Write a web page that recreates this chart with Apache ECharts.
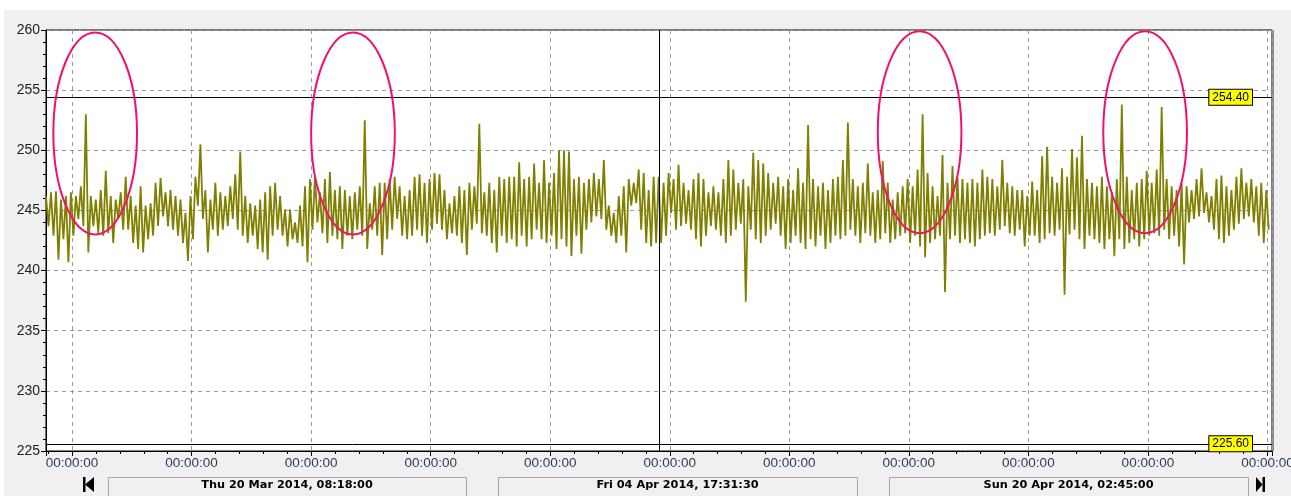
<!DOCTYPE html>
<html><head><meta charset="utf-8">
<script src="https://cdn.jsdelivr.net/npm/echarts@6/dist/echarts.min.js"></script>
<style>
html,body{margin:0;padding:0;background:#fff;overflow:hidden;}
#bg{position:absolute;left:4px;top:10px;width:1287px;height:486px;background:#f0f0f0;}
#chart{position:absolute;left:0;top:0;width:1291px;height:496px;}
</style></head><body>
<div id="bg"></div><div id="chart"></div>
<script>
// ---- data ----
const axisStart = '2014-03-20T08:18:00Z';
const axisEnd = '2014-04-20T02:45:00Z';
const tickOrigin = '2014-03-21T00:00:00Z';
const cursorTime = '2014-04-04T17:31:30Z';
const sampleStepMinutes = 90;
const voltage = [
246.2,243.7, 246.5,242.9, 246.6,240.9, 245.9,242.6, 246.2,240.7, 246.5,242.9, 246.2,244.3, 247.0,243.7, 253.0,241.5, 246.2,243.7,
245.9,243.1, 246.7,242.9, 248.3,243.1, 246.2,242.3, 245.9,244.3, 246.5,243.4, 247.8,243.4, 246.2,242.3, 245.4,241.8, 247.0,241.5,
245.4,242.6, 245.6,242.9, 247.3,243.7, 247.7,244.5, 246.5,243.7, 246.7,243.4, 246.2,242.9, 245.9,242.3, 244.8,240.8, 246.2,242.6,
247.8,245.4, 250.5,244.3, 246.7,241.5, 245.9,243.4, 247.3,242.9, 246.5,243.4, 246.2,243.7, 247.0,244.3, 248.0,243.4, 249.9,242.9,
246.2,242.3, 245.6,242.9, 245.4,241.8, 245.9,241.5, 246.5,240.9, 247.0,242.9, 247.3,243.4, 246.2,242.9, 245.1,242.0, 245.1,242.6,
244.0,242.3, 245.4,242.0, 247.0,240.7, 247.6,243.4, 247.8,244.0, 246.5,243.1, 247.6,242.3, 248.2,242.9, 246.7,242.6, 247.0,241.8,
246.7,242.9, 246.2,242.6, 246.5,243.4, 247.0,242.9, 252.5,241.8, 245.6,243.4, 247.0,242.9, 247.3,241.3, 247.3,242.6, 247.6,243.4,
247.8,244.3, 247.0,242.9, 246.2,242.6, 246.7,242.9, 247.8,243.4, 248.0,242.9, 247.3,242.3, 247.6,243.4, 248.1,243.9, 248.0,243.4,
246.7,242.6, 245.6,243.1, 246.2,242.9, 247.0,242.3, 246.7,241.3, 247.3,243.4, 247.0,243.9, 252.2,243.1, 246.5,242.9, 247.3,242.3,
246.7,241.5, 247.8,242.9, 247.6,242.3, 247.8,242.6, 247.8,242.0, 249.0,242.9, 247.6,242.0, 247.8,242.6, 248.9,243.4, 247.3,242.6,
249.2,242.3, 247.3,242.9, 248.1,241.8, 250.0,242.6, 250.0,242.0, 249.9,241.2, 247.6,242.9, 247.8,241.4, 247.3,243.4, 247.6,244.0,
248.1,244.5, 247.6,244.3, 249.2,243.4, 245.4,242.9, 244.8,242.3, 246.2,242.9, 247.0,241.5, 247.6,245.4, 247.3,245.6, 248.4,243.4,
248.1,242.3, 246.7,242.0, 247.8,242.3, 247.8,242.3, 247.3,242.9, 248.1,244.8, 247.6,243.4, 248.8,243.7, 247.3,243.9, 246.7,243.4,
247.6,242.6, 248.1,242.0, 247.6,242.9, 246.5,243.7, 247.0,243.4, 246.5,242.9, 247.6,242.3, 249.2,242.9, 248.4,243.4, 247.3,243.9,
247.6,237.4, 247.0,243.4, 249.8,242.6, 249.2,242.3, 248.9,242.9, 248.1,243.4, 247.3,243.9, 247.8,242.9, 247.0,241.8, 247.6,242.3,
246.7,242.9, 248.5,242.3, 247.3,241.8, 252.1,242.6, 247.6,242.0, 247.0,242.9, 247.3,241.8, 246.7,242.3, 247.6,242.9, 247.8,242.6,
249.2,242.9, 252.3,243.4, 247.6,242.9, 247.0,242.3, 247.3,243.1, 248.9,242.9, 246.5,242.3, 246.7,242.6, 249.1,243.1, 247.3,242.3,
245.9,242.6, 246.5,242.9, 247.0,243.1, 247.6,242.3, 247.0,242.9, 248.4,242.0, 253.0,241.1, 248.1,242.3, 247.0,242.6, 246.2,242.9,
249.6,238.2, 247.3,242.6, 248.7,242.9, 247.8,242.3, 247.6,242.6, 247.3,242.3, 247.6,242.0, 247.3,242.6, 248.4,242.9, 247.8,243.1,
247.6,242.9, 247.0,243.4, 249.2,243.7, 247.3,243.1, 247.0,242.9, 246.7,243.4, 246.7,242.0, 246.2,242.9, 247.4,242.9, 246.7,242.3,
249.5,242.6, 250.3,243.1, 247.8,242.9, 247.3,243.4, 248.5,238.0, 247.8,243.0, 250.1,243.4, 249.4,242.6, 251.2,241.8, 247.6,242.9,
247.3,242.6, 247.0,242.3, 247.8,241.8, 247.0,242.6, 246.5,241.2, 247.6,242.6, 253.8,241.8, 247.8,242.3, 246.7,242.6, 247.3,242.0,
247.6,242.6, 248.3,242.9, 247.3,243.1, 248.4,242.9, 253.6,243.4, 247.6,242.6, 247.0,242.9, 246.7,242.0, 247.3,240.5, 247.0,244.0,
246.7,244.3, 247.6,244.5, 248.5,244.8, 246.5,244.0, 246.2,243.4, 247.6,242.6, 247.9,242.3, 247.0,242.9, 246.7,243.4, 247.8,243.9,
248.5,244.3, 247.3,244.5, 247.6,244.0, 247.0,242.9, 247.3,242.3, 246.7,243.4
];
const limitValues = [254.40, 225.60];
const yMin = 225, yMax = 260, yStep = 5;
const xTickDays = [0, 3, 6, 9, 12, 15, 18, 21, 24, 27, 30];
const xTickLabels = ['00:00:00','00:00:00','00:00:00','00:00:00','00:00:00','00:00:00','00:00:00','00:00:00','00:00:00','00:00:00','00:00:00'];
const navLabels = ['Thu 20 Mar 2014, 08:18:00', 'Fri 04 Apr 2014, 17:31:30', 'Sun 20 Apr 2014, 02:45:00'];
// highlighted regions (annotation ellipses): centre day, centre value, half-width (days), half-height (value)
const highlightDays = [0.58, 7.05, 21.27, 26.93];
const highlightCentre = [251.4, 251.4, 251.5, 251.5];
const highlightHalfDays = 1.05;
const highlightHalfValue = 8.4;

// ---- chart ----
const DAY = 86400000;
const t0 = Date.parse(tickOrigin);
const toDay = s => (Date.parse(s) - t0) / DAY;
const xMin = toDay(axisStart), xMax = toDay(axisEnd), cursorDay = toDay(cursorTime);
const seriesData = voltage.map((v, i) => [xMin + i * sampleStepMinutes / 1440, v]);

const chart = echarts.init(document.getElementById('chart'), null, {renderer: 'canvas'});
const dashed = {color: '#9a9a9a', type: [4, 4], width: 1};

const navBoxes = [[108, 466], [498, 857], [889, 1248]];
const navGraphics = [];
navBoxes.forEach((b, i) => {
  navGraphics.push({type: 'rect', shape: {x: b[0] + 0.5, y: 477.5, width: b[1] - b[0], height: 30},
    style: {fill: '#f0f0f0', stroke: '#a8a8a8', lineWidth: 1}, silent: true});
  navGraphics.push({type: 'text', x: (b[0] + b[1]) / 2, y: 485.5,
    style: {text: navLabels[i], fill: '#000', font: 'bold 11.3px "DejaVu Sans"', textAlign: 'center', textVerticalAlign: 'middle'}, silent: true});
});
navGraphics.push({type: 'rect', shape: {x: 83, y: 477, width: 2.5, height: 15}, style: {fill: '#000'}, silent: true});
navGraphics.push({type: 'polygon', shape: {points: [[85, 484.5], [94, 477], [94, 492]]}, style: {fill: '#000'}, silent: true});
navGraphics.push({type: 'polygon', shape: {points: [[1262.5, 484.5], [1256, 477], [1256, 492]]}, style: {fill: '#000'}, silent: true});
navGraphics.push({type: 'rect', shape: {x: 1262.5, y: 477, width: 2.5, height: 15}, style: {fill: '#000'}, silent: true});
navGraphics.push({type: 'line', shape: {x1: 1273, y1: 30, x2: 1273, y2: 451}, style: {stroke: '#8a8a8a', lineWidth: 2}, silent: true});

const option = {
  animation: false,
  backgroundColor: 'transparent',
  grid: {left: 46, right: 19, top: 30, bottom: 45, show: true, backgroundColor: '#fff',
    borderColor: '#000', borderWidth: 1, containLabel: false, outerBoundsMode: 'none'},
  xAxis: {
    type: 'value', min: xMin, max: xMax, minInterval: 3, maxInterval: 3,
    axisLine: {show: true, onZero: false, lineStyle: {color: '#000', width: 1}},
    axisTick: {show: true, length: 5, lineStyle: {color: '#000'}},
    minorTick: {show: true, splitNumber: 5, length: 3, lineStyle: {color: '#000'}},
    axisLabel: {color: '#2d3b5a', fontSize: 13.5, fontFamily: '"Liberation Sans", Arial', margin: 5,
      hideOverlap: false, showMinLabel: true, showMaxLabel: true,
      formatter: v => { const i = xTickDays.findIndex(d => Math.abs(d - v) < 1e-6); return i >= 0 ? xTickLabels[i] : ''; }},
    splitLine: {show: true, lineStyle: dashed},
    minorSplitLine: {show: false}
  },
  yAxis: {
    type: 'value', min: yMin, max: yMax, interval: yStep,
    axisLine: {show: true, onZero: false, lineStyle: {color: '#000', width: 1}},
    axisTick: {show: true, length: 5, lineStyle: {color: '#000'}},
    minorTick: {show: true, splitNumber: 5, length: 3, lineStyle: {color: '#000'}},
    axisLabel: {color: '#222', fontSize: 14, fontFamily: '"Liberation Sans", Arial', margin: 6},
    splitLine: {show: true, lineStyle: dashed}
  },
  series: [{
    type: 'line', data: seriesData, symbol: 'none', showSymbol: false, silent: true,
    lineStyle: {color: '#808000', width: 1.8}, itemStyle: {color: '#808000'},
    markLine: {
      silent: true, symbol: 'none', animation: false,
      lineStyle: {color: '#000', type: 'solid', width: 1},
      label: {show: true, position: 'insideEnd', distance: [20, 0],
        formatter: p => p.value.toFixed(2), backgroundColor: '#ffff00', borderColor: '#000', borderWidth: 1,
        padding: [2, 3, 1, 3], color: '#000', fontSize: 12, fontFamily: '"Liberation Sans", Arial'},
      data: [
        {yAxis: limitValues[0]},
        {yAxis: limitValues[1]},
        {xAxis: cursorDay, label: {show: false}}
      ]
    }
  }],
  graphic: navGraphics
};
chart.setOption(option);

const ellipses = highlightDays.map((d, i) => {
  const c = chart.convertToPixel({gridIndex: 0}, [d, highlightCentre[i]]);
  const e = chart.convertToPixel({gridIndex: 0}, [d + highlightHalfDays, highlightCentre[i] + highlightHalfValue]);
  return {type: 'ellipse', shape: {cx: c[0], cy: c[1], rx: e[0] - c[0], ry: c[1] - e[1]},
    style: {fill: null, stroke: '#f2106a', lineWidth: 2}, z: 100, silent: true};
});
chart.setOption({graphic: navGraphics.concat(ellipses)});
</script>
</body></html>
